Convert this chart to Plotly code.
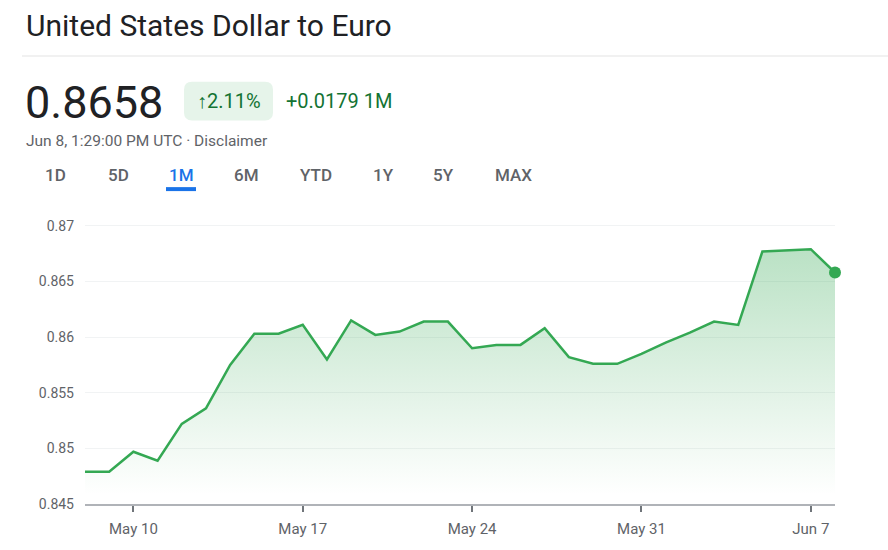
import plotly.graph_objects as go

# daily USD->EUR closes
dates = ['2025-05-08', '2025-05-09', '2025-05-10', '2025-05-11', '2025-05-12', '2025-05-13',
         '2025-05-14', '2025-05-15', '2025-05-16', '2025-05-17', '2025-05-18', '2025-05-19',
         '2025-05-20', '2025-05-21', '2025-05-22', '2025-05-23', '2025-05-24', '2025-05-25',
         '2025-05-26', '2025-05-27', '2025-05-28', '2025-05-29', '2025-05-30', '2025-05-31',
         '2025-06-01', '2025-06-02', '2025-06-03', '2025-06-04', '2025-06-05', '2025-06-06',
         '2025-06-07', '2025-06-08']
rates = [0.8479, 0.8479, 0.8497, 0.8489, 0.8522, 0.8536,
         0.8575, 0.8603, 0.8603, 0.8611, 0.8580, 0.8615,
         0.8602, 0.8605, 0.8614, 0.8614, 0.8590, 0.8593,
         0.8593, 0.8608, 0.8582, 0.8576, 0.8576, 0.8585,
         0.8595, 0.8604, 0.8614, 0.8611, 0.8677, 0.8678,
         0.8679, 0.8658]

x_tickvals = ['2025-05-10', '2025-05-17', '2025-05-24', '2025-05-31', '2025-06-07']
x_ticktext = ['May 10', 'May 17', 'May 24', 'May 31', 'Jun 7']
y_tickvals = [0.845, 0.85, 0.855, 0.86, 0.865, 0.87]
y_ticktext = ['0.845', '0.85', '0.855', '0.86', '0.865', '0.87']

tabs = ['1D', '5D', '1M', '6M', 'YTD', '1Y', '5Y', 'MAX']
tab_x = [55, 118, 181, 246, 316, 383, 443, 513]
active_tab = '1M'

title = 'United States Dollar to Euro'
price = '0.8658'
pct = '↑2.11%'
change = '+0.0179 1M'
stamp = 'Jun 8, 1:29:00 PM UTC · Disclaimer'

W, H = 888, 550
L, R, T, B = 85, 835, 205, 506
GREEN = '#34a853'
DARKGREEN = '#137333'
GREY = '#5f6368'
FONT = 'Roboto, Arial, sans-serif'


def px(x):
    return (x - L) / (R - L)


def py(y):
    return (B - y) / (B - T)


fig = go.Figure()
fig.add_trace(go.Scatter(
    x=dates, y=rates, mode='lines',
    line=dict(color=GREEN, width=2.5),
    fill='tozeroy',
    fillgradient=dict(type='vertical', start=0.846, stop=0.868,
                      colorscale=[[0, 'rgba(52,168,83,0)'], [1, 'rgba(52,168,83,0.34)']]),
    hoverinfo='skip', showlegend=False))
fig.add_trace(go.Scatter(
    x=[dates[-1]], y=[rates[-1]], mode='markers',
    marker=dict(color=GREEN, size=12),
    cliponaxis=False, hoverinfo='skip', showlegend=False))

ann = []
ann.append(dict(text=title, x=px(24), y=py(24), font=dict(size=30, color='#202124')))
ann.append(dict(text=price, x=px(23), y=py(102), font=dict(size=45, color='#202124')))
ann.append(dict(text=pct, x=px(229), y=py(100), xanchor='center',
                font=dict(size=20, color=DARKGREEN)))
ann.append(dict(text=change, x=px(284), y=py(100), font=dict(size=20, color=DARKGREEN)))
ann.append(dict(text=stamp, x=px(24), y=py(141), font=dict(size=15.5, color=GREY)))
for t, tx in zip(tabs, tab_x):
    col = '#1a73e8' if t == active_tab else GREY
    ann.append(dict(text=t, x=px(tx), y=py(175), xanchor='center',
                    font=dict(size=17, color=col, weight=500)))
for a in ann:
    a.setdefault('xanchor', 'left')
    a.update(xref='paper', yref='paper', yanchor='middle', showarrow=False,
             font=dict(family=FONT, **a['font']))

x0, x1, y0, y1, r = px(184), px(273), py(81), py(120), 8
rx, ry = r / (R - L), r / (B - T)
pill = (f'M {x0 + rx} {y0} L {x1 - rx} {y0} Q {x1} {y0} {x1} {y0 - ry} '
        f'L {x1} {y1 + ry} Q {x1} {y1} {x1 - rx} {y1} L {x0 + rx} {y1} '
        f'Q {x0} {y1} {x0} {y1 + ry} L {x0} {y0 - ry} Q {x0} {y0} {x0 + rx} {y0} Z')

shapes = [
    dict(type='line', xref='paper', yref='paper', x0=px(22), x1=px(888), y0=py(55), y1=py(55),
         line=dict(color='#e3e3e3', width=1)),
    dict(type='path', xref='paper', yref='paper', path=pill, fillcolor='#e6f4ea',
         line=dict(width=0), layer='below'),
    dict(type='rect', xref='paper', yref='paper', x0=px(166), x1=px(196), y0=py(187), y1=py(191),
         fillcolor='#1a73e8', line=dict(width=0)),
]

fig.update_layout(
    width=W, height=H,
    margin=dict(l=L, r=W - R, t=T, b=H - B),
    plot_bgcolor='white', paper_bgcolor='white',
    font=dict(family=FONT, color=GREY),
    annotations=ann, shapes=shapes,
    xaxis=dict(range=[dates[0], dates[-1]], tickvals=x_tickvals, ticktext=x_ticktext,
               showgrid=False, zeroline=False, showline=True, linecolor='#b0b3b8', linewidth=1.5,
               ticks='outside', ticklen=6, tickcolor='#70757a', tickwidth=2,
               tickfont=dict(size=15, color=GREY), ticklabelstandoff=4),
    yaxis=dict(range=[0.845, 0.845 + (B - T) / 11200], tickvals=y_tickvals, ticktext=y_ticktext,
               showgrid=True, gridcolor='#f1f3f4', gridwidth=1, zeroline=False, showline=False,
               tickfont=dict(size=14, color=GREY), ticklabelstandoff=10),
)

# page body has an 8px default margin; drop it so the figure sits at the corner
fig.write_html('out.html', config={'displayModeBar': False},
               post_script="document.body.style.margin='0';")
